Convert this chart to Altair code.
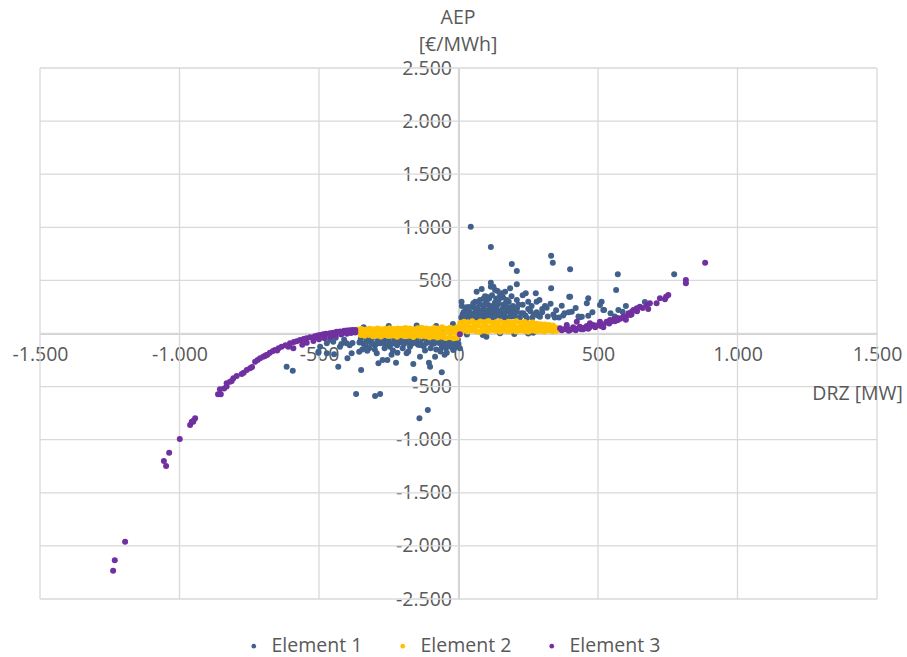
import altair as alt
import pandas as pd

# ---------------- data ----------------
series_names = ["Element 1", "Element 2", "Element 3"]
series_colors = ["#41618c", "#ffc000", "#7030a0"]

x_ticks = [-1500, -1000, -500, 0, 500, 1000, 1500]
y_ticks = [-2500, -2000, -1500, -1000, -500, 0, 500, 1000, 1500, 2000, 2500]

x_title = "DRZ [MW]"
y_title_lines = ["AEP", "[€/MWh]"]

# Element 1 (blue)
e1_x = [44, 116, 191, 209, 332, 338, 400, 571, 773, 565, 116, 116, 209, 185, 65, 241, 277, 332, 11, 290,
        209, 397, 465, 460, 513, 370, 316, 29, 53, 77, 101, 131, 149, 167, 173, 107, 137, 209, 232, 262,
        292, 406, 442, 519, 507, 522, 435, 465, 668, 573, 588, 400,
        15, 20, 25, 35, 40, 45, 50, 55, 60, 65, 70, 75, 80, 85, 90, 95, 100, 105, 110, 115, 120, 125,
        130, 135, 140, 145, 150, 155, 160, 165, 170, 175, 180, 185, 190, 195, 200, 210, 220, 230, 240,
        250, 265, 280, 300, 320, 340, 360, 380, 350, 250, 160, 90, 120, 60, 190, 230, 280, 330, 420,
        480, 545, 560, 600, 300, 270,
        10, 18, 28, 38, 48, 58, 68, 78, 88, 98, 108, 118, 128, 138, 148, 158, 168, 178, 188, 198,
        12, 22, 32, 42, 52, 62, 72, 82, 92, 102, 112, 122, 132, 142, 152, 162, 172, 182, 192, 202,
        125, 140, 95, 155, 110, 170, 83, 135, 215, 225, 245, 258, 285, 310, 345, 375, 395, 430,
        87, 149, 30, 200, 250, 100, 88, 268,
        -616, -594, -367, -299, -281, -140, -110, -158, -60, -349, -431, -502, -472, -446, -398, -383,
        -356, -327, -293, -287, -272, -255, -224, -219, -186, -162, -106, -102, -138, -84, -42, -19,
        5, -174, -246, -329, -425, -401, -281, -138, -66, -216, -353, -502, -472, -449, -496,
        -350, -330, -310, -290, -270, -250, -230, -210, -190, -170, -150, -130, -110, -90, -70, -50,
        -30, -10, -5, -15, -40, -60, -80, -100, -120, -200, -220, -260, -300, -320, -340, -380, -410,
        -440, -460, -300, -180, -240, -50, 0, -2,
        -355, -335, -315, -295, -275, -255, -235, -215, -195, -175, -155, -135, -115, -95, -75, -55,
        -35, -20, -8, -25, -45, -65, -88, -125, -145, -165, -205, -235, -265, -310, -345, -390, -420,
        -340, -250, -150, -80, -20]
e1_y = [1006, 814, 654, 589, 733, 667, 604, 557, 557, 410, 479, 441, 463, 425, 394, 378, 378, 425, 300, 315,
        315, 347, 331, 284, 300, 262, 243, 247, 284, 315, 347, 410, 362, 394, 315, 268, 252, 205, 190, 259,
        158, 205, 158, 221, 268, 221, 152, 168, 297, 221, 205, 347,
        180, 130, 220, 160, 200, 140, 250, 180, 130, 220, 160, 270, 200, 140, 240, 180, 300, 150, 220,
        260, 190, 140, 290, 230, 170, 320, 210, 150, 270, 190, 240, 140, 300, 200, 160, 260, 180, 240,
        150, 270, 170, 230, 150, 200, 230, 160, 180, 150, 190, 220, 300, 340, 330, 360, 300, 350, 360,
        300, 280, 240, 200, 190, 160, 260, 200, 180,
        150, 200, 170, 250, 135, 195, 230, 150, 185, 215, 170, 250, 160, 205, 185, 230, 145, 210, 175, 220,
        260, 145, 235, 190, 160, 240, 180, 215, 270, 165, 195, 235, 200, 280, 175, 215, 150, 245, 190, 165,
        440, 400, 350, 380, 330, 290, 420, 330, 270, 190, 145, 210, 170, 260, 150, 170, 200, 160,
        -14, 2, -10, -5, 0, -30, -5, 8,
        -312, -350, -570, -589, -570, -799, -720, -428, -365, -344, -312, -181, -187, -196, -234, -187,
        -171, -162, -187, -281, -250, -250, -275, -181, -187, -287, -275, -312, -218, -218, -181, -155,
        -139, -124, -124, -124, -124, -92, -92, -108, -92, -77, -77, -171, -92, -77, -124,
        -50, -60, -45, -70, -55, -65, -50, -60, -70, -55, -65, -50, -70, -60, -50, -70,
        -60, -80, -120, -100, -110, -130, -150, -140, -160, -140, -110, -100, -110, -140, -100, -90, -60,
        -40, -60, -150, -170, -200, -200, -100, -60,
        -85, -95, -80, -100, -90, -85, -95, -80, -100, -90, -85, -95, -90, -100, -85, -95,
        -90, -110, -95, -130, -140, -170, -95, -120, -105, -95, -85, -160, -140, -95, -150, -110, -100,
        60, 70, 75, 70, 90]

# Element 2 (yellow)
e2_x = [-362, -348, -334, -319, -305, -290, -276, -262, -247, -233, -218, -204, -190, -175, -161, -146,
        -132, -117, -103, -88, -74, -59, -45, -30, -16, -4,
        -357, -342, -327, -312, -298, -283, -269, -254, -240, -226, -211, -197, -182, -168, -153, -139,
        -124, -110, -95, -81, -66, -52, -37, -23, -9,
        -350, -336, -321, -307, -292, -278, -263, -249, -234, -220, -205, -191, -176, -162, -147, -133,
        -118, -104, -89, -75, -60, -46, -31, -17, -6,
        6, 20, 34, 49, 63, 78, 92, 107, 121, 136, 150, 165, 179, 194, 208, 223, 237, 252, 266, 281,
        295, 310, 324, 338,
        12, 27, 41, 56, 70, 85, 99, 114, 128, 143, 157, 172, 186, 201, 215, 230, 244, 259, 273, 288,
        302, 317, 331, 346, 358,
        4, 18, 33, 47, 62, 76, 91, 105, 120, 134, 149, 163, 178, 192, 207, 221, 236, 250, 265, 279,
        294, 308, 323, 337, 352]
e2_y = [38, 42, 35, 44, 40, 47, 39, 45, 50, 42, 48, 44, 52, 46, 41, 49,
        55, 47, 43, 51, 46, 58, 44, 53, 48, 60,
        12, 5, 15, 8, 18, 10, 3, 14, 9, 20, 6, 16, 11, 4, 17, 8,
        13, 21, 7, 15, 10, 2, 18, 9, 14,
        -15, -22, -12, -25, -18, -28, -14, -24, -20, -30, -17, -26, -21, -32, -19, -27,
        -23, -35, -28, -38, -30, -42, -36, -45, -40,
        98, 110, 104, 115, 100, 112, 106, 118, 102, 109, 114, 99, 111, 105, 116, 101, 108, 96, 103, 92,
        88, 85, 80, 75,
        62, 70, 58, 66, 74, 60, 68, 55, 72, 64, 59, 71, 63, 67, 57, 69, 61, 65, 58, 62,
        55, 60, 52, 57, 50,
        22, 28, 18, 30, 24, 15, 27, 20, 32, 25, 17, 29, 22, 26, 19, 31, 23, 16, 28, 21,
        25, 18, 30, 22, 26]

# Element 3 (purple)
e3_x = [-1238, -1232, -1195, -1056, -1048, -1037, -999, -962, -951, -956, -944, -950, -862, -852, -855,
        -840, -831, -831, -819, -813, -807, -795, -777, -770, -759, -747, -740, -729, -720, -711, -700,
        -694, -685, -676, -665, -658, -645, -634, -620, -604, -590, -580, -568, -555, -545, -532, -515,
        -505, -496, -485, -475, -461, -450, -437, -425, -410, -400, -390, -380, -370,
        -592, -560, -544, -520, -500, -480, -460, -440, -420, -400, -385, -370, -610, -650, -690,
        5,
        364, 388, 411, 435, 460, 483, 507, 531, 555, 573, 591, 609, 627, 650, 680, 686, 710, 722, 740,
        744, 752, 815, 815, 884,
        370, 380, 395, 400, 410, 420, 430, 440, 450, 465, 470, 490, 495, 510, 520, 540, 545, 560, 570,
        580, 600, 615, 640, 660, 600, 620, 388, 424, 471, 507, 543, 567, 591, 621, 639, 675, 447, 519]
e3_y = [-2233, -2136, -1960, -1200, -1248, -1122, -993, -862, -830, -830, -799, -821, -572, -573, -526,
        -517, -500, -469, -454, -447, -422, -400, -381, -370, -344, -328, -315, -265, -250, -234, -220,
        -212, -200, -181, -165, -155, -140, -124, -110, -92, -80, -72, -61, -52, -45, -36, -25,
        -18, -14, -8, -3, 2, 8, 17, 20, 25, 28, 30, 32, 34,
        -139, -105, -86, -70, -55, -45, -30, -20, -10, -2, 5, 10, -125, -160, -205,
        -8,
        49, 58, 58, 64, 71, 80, 96, 111, 127, 143, 158, 190, 221, 253, 231, 284, 284, 331, 322,
        347, 362, 472, 504, 667,
        30, 40, 25, 33, 45, 30, 50, 40, 55, 45, 60, 60, 75, 70, 85, 95, 110, 115, 125,
        140, 160, 175, 210, 240, 130, 180, 80, 111, 96, 111, 127, 143, 158, 205, 237, 268, 39, 58]

# ---------------- build table ----------------
df = pd.concat([
    pd.DataFrame({"x": e1_x, "y": e1_y, "series": series_names[0]}),
    pd.DataFrame({"x": e2_x, "y": e2_y, "series": series_names[1]}),
    pd.DataFrame({"x": e3_x, "y": e3_y, "series": series_names[2]}),
], ignore_index=True)

FONT = "Open Sans"
TXT = "#595959"
GRID = "#d9d9d9"
W, H = 837, 531

xscale = alt.Scale(domain=[x_ticks[0], x_ticks[-1]], nice=False, zero=False)
yscale = alt.Scale(domain=[y_ticks[0], y_ticks[-1]], nice=False, zero=False)

label_expr = "(datum.value < 0 ? '-' : '') + replace(format(abs(datum.value), ','), ',', '.')"

x_axis = alt.Axis(values=x_ticks, grid=False, ticks=False, domain=True,
                  domainColor="#bfbfbf", domainWidth=1.5, offset=-H / 2,
                  labelExpr=label_expr, labelFont=FONT, labelFontSize=19.5,
                  labelColor=TXT, labelPadding=12, labelFlush=False, labelOverlap=False)
y_axis = alt.Axis(values=y_ticks, grid=False, ticks=False, domain=True,
                  domainColor="#bfbfbf", domainWidth=1.5, offset=-W / 2,
                  labelExpr=label_expr, labelFont=FONT, labelFontSize=19.5,
                  labelColor=TXT, labelPadding=7, labelFlush=False, labelOverlap=False)

points = alt.Chart(df).mark_circle(size=36, opacity=1).encode(
    x=alt.X("x:Q", scale=xscale, title=None, axis=x_axis),
    y=alt.Y("y:Q", scale=yscale, title=None, axis=y_axis),
    color=alt.Color("series:N",
                    scale=alt.Scale(domain=series_names, range=series_colors),
                    legend=alt.Legend(title=None, orient="none", direction="horizontal",
                                      legendX=204, legendY=568, symbolType="circle",
                                      symbolSize=22, labelFont=FONT, labelFontSize=19.5,
                                      labelColor=TXT, labelOffset=8, columnPadding=30,
                                      padding=0)),
)

vgrid = alt.Chart(pd.DataFrame({"v": x_ticks})).mark_rule(color=GRID, strokeWidth=1.3).encode(
    x=alt.X("v:Q", scale=xscale, title=None, axis=x_axis)
)
hgrid = alt.Chart(pd.DataFrame({"v": y_ticks})).mark_rule(color=GRID, strokeWidth=1.3).encode(
    y=alt.Y("v:Q", scale=yscale, title=None, axis=y_axis)
)

title1 = alt.Chart(alt.Data(values=[{}])).mark_text(
    text=y_title_lines[0], font=FONT, fontSize=19.5, color=TXT, baseline="middle", align="center"
).encode(x=alt.value(418), y=alt.value(-50))
title2 = alt.Chart(alt.Data(values=[{}])).mark_text(
    text=y_title_lines[1], font=FONT, fontSize=19.5, color=TXT, baseline="middle", align="center"
).encode(x=alt.value(418), y=alt.value(-23))
xtitle = alt.Chart(alt.Data(values=[{}])).mark_text(
    text=x_title, font=FONT, fontSize=19.5, color=TXT, baseline="middle", align="right"
).encode(x=alt.value(863), y=alt.value(326))

chart = alt.layer(vgrid, hgrid, points, title1, title2, xtitle).properties(
    width=W, height=H,
    autosize=alt.AutoSizeParams(type="none"),
    padding={"left": 40, "top": 68, "right": 30, "bottom": 58},
).configure_view(strokeWidth=0)

chart.save("out.html", embed_options={"renderer": "svg", "actions": False})
